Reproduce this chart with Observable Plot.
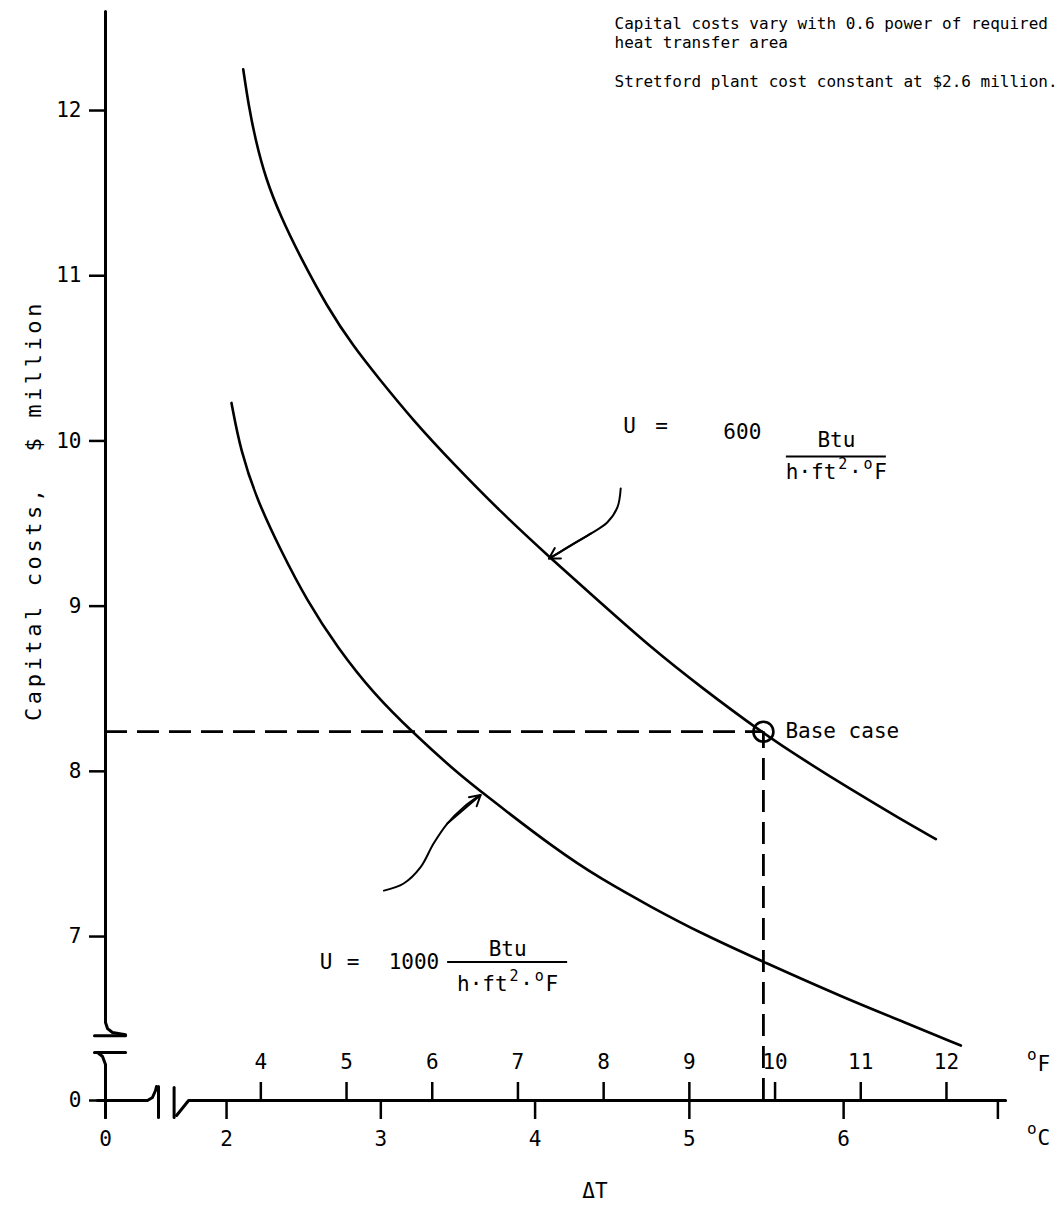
<!DOCTYPE html>
<html>
<head>
<meta charset="utf-8">
<script src="https://cdn.jsdelivr.net/npm/d3@7"></script>
<script src="https://cdn.jsdelivr.net/npm/@observablehq/plot@0.6"></script>
<style>
  html, body { margin: 0; padding: 0; background: #fff; }
  #chart svg { display: block; }
</style>
</head>
<body>
<div id="chart"></div>
<script>
// ---- Axis ticks -------------------------------------------------------
const celsiusTicks = [0, 2, 3, 4, 5, 6, 7];
const celsiusLabels = ["0", "2", "3", "4", "5", "6", ""];
const fahrenheitTicks = [4, 5, 6, 7, 8, 9, 10, 11, 12];
const costTicks = [0, 7, 8, 9, 10, 11, 12];

// ---- Capital cost ($ million) against ΔT (°C) -------------------------
// U = 600 Btu/(h·ft²·°F)
const u600DeltaT = [2.108, 2.143, 2.188, 2.253, 2.350, 2.480, 2.653, 2.824, 2.977, 3.213, 3.472, 3.777, 4.101, 4.425, 4.750, 5.074, 5.463, 5.722, 6.047, 6.371, 6.598];
const u600Cost   = [12.25, 12.03, 11.82, 11.59, 11.36, 11.11, 10.81, 10.57, 10.39, 10.12, 9.86, 9.57, 9.29, 9.02, 8.75, 8.51, 8.24, 8.08, 7.89, 7.71, 7.59];
// U = 1000 Btu/(h·ft²·°F)
const u1000DeltaT = [2.032, 2.091, 2.199, 2.350, 2.523, 2.718, 2.953, 3.213, 3.472, 3.658, 4.145, 4.425, 4.750, 5.074, 5.495, 6.001, 6.371, 6.760];
const u1000Cost   = [10.23, 9.94, 9.64, 9.34, 9.03, 8.75, 8.47, 8.23, 8.01, 7.87, 7.52, 7.35, 7.18, 7.02, 6.84, 6.63, 6.49, 6.34];

// Base case on the U = 600 curve
const baseCaseDeltaT = 5.48;
const baseCaseCost = 8.24;

// Hand-drawn pointer arrows from the U labels to their curves
const u600Pointer  = [[4.555, 9.712], [4.534, 9.599], [4.469, 9.508], [4.361, 9.439], [4.250, 9.379], [4.145, 9.318], [4.090, 9.288]];
const u1000Pointer = [[3.020, 7.278], [3.148, 7.321], [3.258, 7.420], [3.342, 7.563], [3.431, 7.684], [3.537, 7.783], [3.647, 7.857]];

// Axis lines, including the break symbols on both axes
const axisPieces = [
  [[0, 12.6], [0, 6.48], [0.019, 6.443], [0.066, 6.419], [0.189, 6.405]],
  [[-0.104, 6.4], [0.189, 6.4]],
  [[-0.104, 6.298], [0.189, 6.298]],
  [[-0.075, 6.298], [-0.028, 6.274], [0, 6.225], [0, -0.17]],
  [[-0.075, 0], [0.396, 0], [0.443, 0.03], [0.472, 0.10], [0.481, 0.14]],
  [[0.5, 0.14], [0.5, -0.17]],
  [[1.66, 0.13], [1.66, -0.17]],
  [[1.676, -0.15], [1.754, 0], [7.05, 0]]
];

const noteText = "Capital costs vary with 0.6 power of required\nheat transfer area\n\nStretford plant cost constant at $2.6 million.";
const yTitle = "Capital costs,  $ million";
const xTitle = "ΔT";

// ---- Helpers ----------------------------------------------------------
const FONT = "DejaVu Sans Mono, Liberation Mono, monospace";
const CELL = 21 * 0.602; // advance of one monospace character at 21px
const toRows = (xs, ys) => xs.map((x, i) => ({x, y: ys[i]}));
const toPoints = (arr) => arr.map(([x, y]) => ({x, y}));
const celsiusLabel = new Map(celsiusTicks.map((t, i) => [t, celsiusLabels[i]]));

const upperCurve = toRows(u600DeltaT, u600Cost);
const lowerCurve = toRows(u1000DeltaT, u1000Cost);
const baseCase = [{x: baseCaseDeltaT, y: baseCaseCost}];

const pointerHead = (p, from) => ({x1: p[from][0], y1: p[from][1], x2: p[p.length - 1][0], y2: p[p.length - 1][1]});

// Fraction-style U labels, anchored at the centre of the fraction bar
const uLabels = [
  {x: 5.953, y: 9.906, value: "600", half: 50, uDx: -213, eqDx: -181, uDy: -30, vDx: -113, vDy: -24, nDy: -16, dDy: 16},
  {x: 3.822, y: 6.846, value: "1000", half: 60, uDx: -188, eqDx: -161, uDy: 0, vDx: -119, vDy: 0, nDy: -13, dDy: 22}
];

const txt = {fontFamily: FONT, fill: "#000"};

// denominator "h·ft²·°F" set on an 8-cell monospace line, with a raised small 2 and o
const cellX = (i) => (i - 4) * CELL; // left edge of cell i, line centred on the bar
const denominatorParts = [
  {text: "h·ft", cell: 0, size: 21, raise: 0, anchor: "start"},
  {text: "2", cell: 4.5, size: 15, raise: 8, anchor: "middle"},
  {text: "·", cell: 5, size: 21, raise: 0, anchor: "start"},
  {text: "o", cell: 6.5, size: 15, raise: 8, anchor: "middle"},
  {text: "F", cell: 7, size: 21, raise: 0, anchor: "start"}
];

const labelMarks = uLabels.flatMap((l) => [
  Plot.text([l], {x: "x", y: "y", dx: l.uDx, dy: l.uDy, text: () => "U", textAnchor: "start", fontSize: 21, ...txt}),
  Plot.text([l], {x: "x", y: "y", dx: l.eqDx, dy: l.uDy, text: () => "=", textAnchor: "start", fontSize: 21, ...txt}),
  Plot.text([l], {x: "x", y: "y", dx: l.vDx, dy: l.vDy, text: "value", textAnchor: "start", fontSize: 21, ...txt}),
  Plot.text([l], {x: "x", y: "y", dy: l.nDy, text: () => "Btu", fontSize: 21, ...txt}),
  ...denominatorParts.map((p) =>
    Plot.text([l], {x: "x", y: "y", dx: cellX(p.cell), dy: l.dDy - p.raise, text: () => p.text, textAnchor: p.anchor, fontSize: p.size, ...txt})
  ),
  Plot.ruleY([l], {y: "y", x1: "x", x2: "x", insetLeft: -l.half, insetRight: -l.half, strokeWidth: 2})
]);

const chart = Plot.plot({
  width: 1064,
  height: 1209,
  marginLeft: 105,
  marginRight: 0,
  marginTop: 10,
  marginBottom: 109,
  style: {background: "#fff", color: "#000"},
  // ΔT scale broken between 0 and the working range
  x: {type: "linear", domain: [0, 0.5, 1.66, 7.4], range: [105, 158, 173.6, 1059.1]},
  // cost scale broken between 0 and the working range
  y: {type: "linear", domain: [0, 0.3, 6.2, 12.6], range: [1100, 1070, 1068.2, 10.9]},
  marks: [
    // axes
    ...axisPieces.map((p) => Plot.line(toPoints(p), {x: "x", y: "y", stroke: "#000", strokeWidth: 3, strokeLinecap: "round"})),
    Plot.axisY({ticks: costTicks, anchor: "left", tickSize: 16, tickPadding: 8, fontSize: 21, fontFamily: FONT, strokeWidth: 2.5, label: null, tickFormat: (d) => String(d)}),
    Plot.axisX({ticks: celsiusTicks, anchor: "bottom", tickSize: 19, tickPadding: 12, fontSize: 21, fontFamily: FONT, strokeWidth: 2.5, label: null, tickFormat: (d) => celsiusLabel.get(d)}),
    Plot.ruleX(fahrenheitTicks, {x: (f) => f / 1.8, y1: 0, y2: 0.18, strokeWidth: 2.5}),
    Plot.text(fahrenheitTicks, {x: (f) => f / 1.8, y: 0, dy: -38, text: (f) => String(f), fontSize: 21, ...txt}),

    // unit marks at the right end of the ΔT axis
    Plot.text(["o"], {x: 7.22, y: 0, dy: -46, text: (d) => d, fontSize: 16, ...txt}),
    Plot.text(["F"], {x: 7.22, y: 0, dx: 12, dy: -36, text: (d) => d, fontSize: 21, ...txt}),
    Plot.text(["o"], {x: 7.22, y: 0, dy: 28, text: (d) => d, fontSize: 16, ...txt}),
    Plot.text(["C"], {x: 7.22, y: 0, dx: 12, dy: 38, text: (d) => d, fontSize: 21, ...txt}),

    // axis titles
    Plot.text([yTitle], {frameAnchor: "top-left", dx: -80, dy: 500, rotate: -90, textAnchor: "middle", text: (d) => d, fontSize: 22, ...txt}),
    Plot.text([xTitle], {frameAnchor: "bottom", dx: 10, dy: 97, text: (d) => d, fontSize: 21, ...txt}),

    // notes
    Plot.text([noteText], {frameAnchor: "top-left", dx: 509, dy: 5, text: (d) => d, textAnchor: "start", lineAnchor: "top", lineHeight: 1.2, fontSize: 16, ...txt}),

    // base case guides
    Plot.ruleY(baseCase, {y: "y", x1: 0, x2: "x", strokeWidth: 2.8, strokeDasharray: "22,10"}),
    Plot.ruleX(baseCase, {x: "x", y1: 0, y2: "y", strokeWidth: 2.8, strokeDasharray: "22,10"}),

    // cost curves
    Plot.line(upperCurve, {x: "x", y: "y", curve: "basis", stroke: "#000", strokeWidth: 2.6}),
    Plot.line(lowerCurve, {x: "x", y: "y", curve: "basis", stroke: "#000", strokeWidth: 2.6}),

    // base case marker and label
    Plot.dot(baseCase, {x: "x", y: "y", r: 10, stroke: "#000", strokeWidth: 2.6, fill: "none"}),
    Plot.text(baseCase, {x: "x", y: "y", dx: 22, text: () => "Base case", textAnchor: "start", fontSize: 21, ...txt}),

    // pointer arrows
    Plot.line(toPoints(u600Pointer), {x: "x", y: "y", curve: "catmull-rom", strokeWidth: 2}),
    Plot.line(toPoints(u1000Pointer), {x: "x", y: "y", curve: "catmull-rom", strokeWidth: 2}),
    Plot.arrow([pointerHead(u600Pointer, 3), pointerHead(u1000Pointer, 4)], {x1: "x1", y1: "y1", x2: "x2", y2: "y2", headLength: 9, strokeWidth: 2}),

    // U labels
    ...labelMarks
  ]
});

// the vertical title is typed with wide letter spacing
d3.select(chart).selectAll("text")
  .filter(function () { return this.textContent === yTitle; })
  .attr("letter-spacing", "3.6px");

document.getElementById("chart").appendChild(chart);
</script>
</body>
</html>
